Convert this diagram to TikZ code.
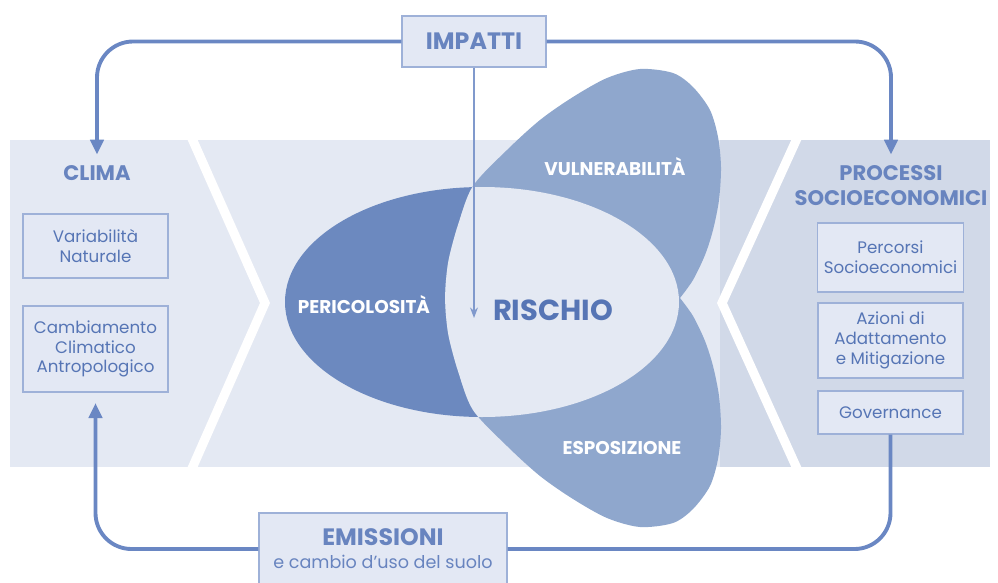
\documentclass[tikz,border=0pt]{standalone}
\usepackage{fontspec}
\setmainfont{Poppins}
\usetikzlibrary{arrows.meta}

\definecolor{bandlight}{HTML}{E4E9F3}
\definecolor{banddark}{HTML}{D1D9E8}
\definecolor{pericblue}{HTML}{6C89BF}
\definecolor{lobeblue}{HTML}{8FA7CD}
\definecolor{lineblue}{HTML}{6A87C3}
\definecolor{titleblue}{HTML}{6884BF}
\definecolor{textblue}{HTML}{5675B5}
\definecolor{boxfill}{HTML}{E3E8F4}
\definecolor{boxline}{HTML}{9EB1D8}

\tikzset{
  box/.style={rectangle, draw=boxline, fill=boxfill, line width=0.6pt,
              align=center, text=textblue, minimum width=2.9cm,
              font=\fontsize{9.5}{11.3}\selectfont},
  title/.style={align=center, text=titleblue, inner sep=6pt,
                font=\fontsize{12}{14.2}\selectfont\bfseries},
  lobetext/.style={text=white, font=\fontsize{10.5}{12}\selectfont\bfseries},
  chevron/.style={draw=white, line width=5.2pt, line join=miter},
  connline/.style={draw=lineblue, line width=2.2pt, rounded corners=0.72cm},
  conn/.style={connline, -{Triangle[width=7.5pt,length=8.5pt]}},
  pointer/.style={draw=lineblue!85, line width=0.7pt,
                  -{Stealth[width=4.5pt,length=6pt]}}
}

\begin{document}
\begin{tikzpicture}[x=0.02cm, y=-0.02cm]
    \useasboundingbox (0,0) rectangle (998,582);

    % Bands

    \fill[bandlight] (10,140) rectangle (720,467);
    \fill[banddark] (720,140) rectangle (990,467);
    \draw[chevron] (190,134) -- (265,303) -- (190,473);
    \draw[chevron] (799,134) -- (722,303) -- (799,473);

    % Pericolosita, vulnerabilita, esposizione

    \fill[pericblue] (482,302) ellipse [x radius=197, y radius=115];
    \begin{scope}
      \clip plot[smooth] coordinates {(445,298) (446,280) (449,258)
              (458,225) (473,186) (507,150) (540,120) (573,97) (607,78)
              (640,69) (673,73) (693,87) (710,110) (718,137) (721,167)
              (719,200) (713,230) (705,255) (693,280) (680,298)}
            -- plot[smooth] coordinates {(680,298) (693,316) (705,341)
              (713,366) (719,396) (721,429) (718,459) (710,486) (693,509)
              (673,523) (640,527) (607,518) (573,499) (540,476) (507,446)
              (473,410) (458,371) (449,338) (446,316) (445,298)} -- cycle;
      \fill[lobeblue] (400,40) rectangle (760,560);
      \fill[bandlight] (482,302) ellipse [x radius=197, y radius=115];
    \end{scope}

    \node (pericolosita) [lobetext] at (364,305) {PERICOLOSITÀ};
    \node (vulnerabilita) [lobetext] at (615,167) {VULNERABILITÀ};
    \node (esposizione) [lobetext] at (622,448) {ESPOSIZIONE};
    \node (rischio) [text=textblue, font=\fontsize{16.5}{18}\selectfont\bfseries]
          at (553,310) {RISCHIO};

    % Clima

    \node (clima) [title] at (97,173) {CLIMA};
    \node (variabilita) [box, minimum height=1.28cm]
          at (95.5,246) {Variabilità\\Naturale};
    \node (cambiamento) [box, minimum height=1.72cm]
          at (95.5,349) {Cambiamento\\Climatico\\Antropologico};

    % Processi socioeconomici

    \node (processi) [title] at (891,185.5) {PROCESSI\\SOCIOECONOMICI};
    \node (percorsi) [box, minimum height=1.38cm]
          at (890.5,257.5) {Percorsi\\Socioeconomici};
    \node (azioni) [box, minimum height=1.5cm]
          at (890.5,340.5) {Azioni di\\Adattamento\\e Mitigazione};
    \node (governance) [box, minimum height=0.86cm]
          at (890.5,412.5) {Governance};

    % Impatti and emissioni

    \node (impatti) [box, minimum width=2.88cm, minimum height=1.02cm,
                     text=titleblue, font=\fontsize{13.5}{15}\selectfont\bfseries]
          at (474,41.5) {IMPATTI};
    \node (emissioni) [box, minimum width=4.96cm, minimum height=1.44cm,
                       text=titleblue, font=\fontsize{10}{12}\selectfont]
          at (383,549) {{\fontsize{13.5}{15}\selectfont\bfseries EMISSIONI}\\[1pt]
                        e cambio d’uso del suolo};

    \draw[conn] (impatti.west) -| (clima.north);
    \draw[conn] (impatti.east) -| (processi.north);
    \draw[connline] (governance.south) |- (emissioni.east);
    \draw[conn, shorten >=6pt] (emissioni.west) -| (cambiamento.south);
    \coordinate (rischiotip) at (474,318);
    \draw[pointer] (impatti.south) -- (rischiotip);
\end{tikzpicture}
\end{document}
